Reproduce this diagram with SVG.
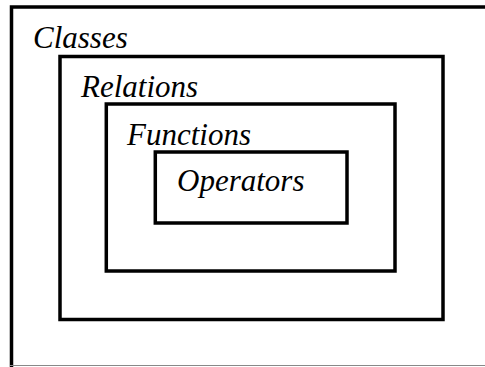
<svg xmlns="http://www.w3.org/2000/svg" width="485" height="367" viewBox="0 0 485 367">
<style>
.box{fill:none;stroke:#000;stroke-width:3.5}
</style>
<rect x="0" y="0" width="485" height="367" fill="#fff"/>
<g id="classes">
<path class="box" d="M11.5 367 V7 H490"/>
<line x1="10" y1="365.5" x2="485" y2="365.5" stroke="#888" stroke-width="1"/>
<text font-family="Liberation Serif, serif" font-style="italic" font-size="31" x="33" y="48">Classes</text>
</g>
<g id="relations">
<rect class="box" x="60" y="56.5" width="383" height="263"/>
<text font-family="Liberation Serif, serif" font-style="italic" font-size="31" x="81" y="97">Relations</text>
</g>
<g id="functions">
<rect class="box" x="106.3" y="104" width="288.7" height="167"/>
<text font-family="Liberation Serif, serif" font-style="italic" font-size="31" x="127" y="145">Functions</text>
</g>
<g id="operators">
<rect class="box" x="155.3" y="152" width="191.7" height="71"/>
<text font-family="Liberation Serif, serif" font-style="italic" font-size="31" x="177" y="191">Operators</text>
</g>
<g id="connectors"></g>
</svg>
